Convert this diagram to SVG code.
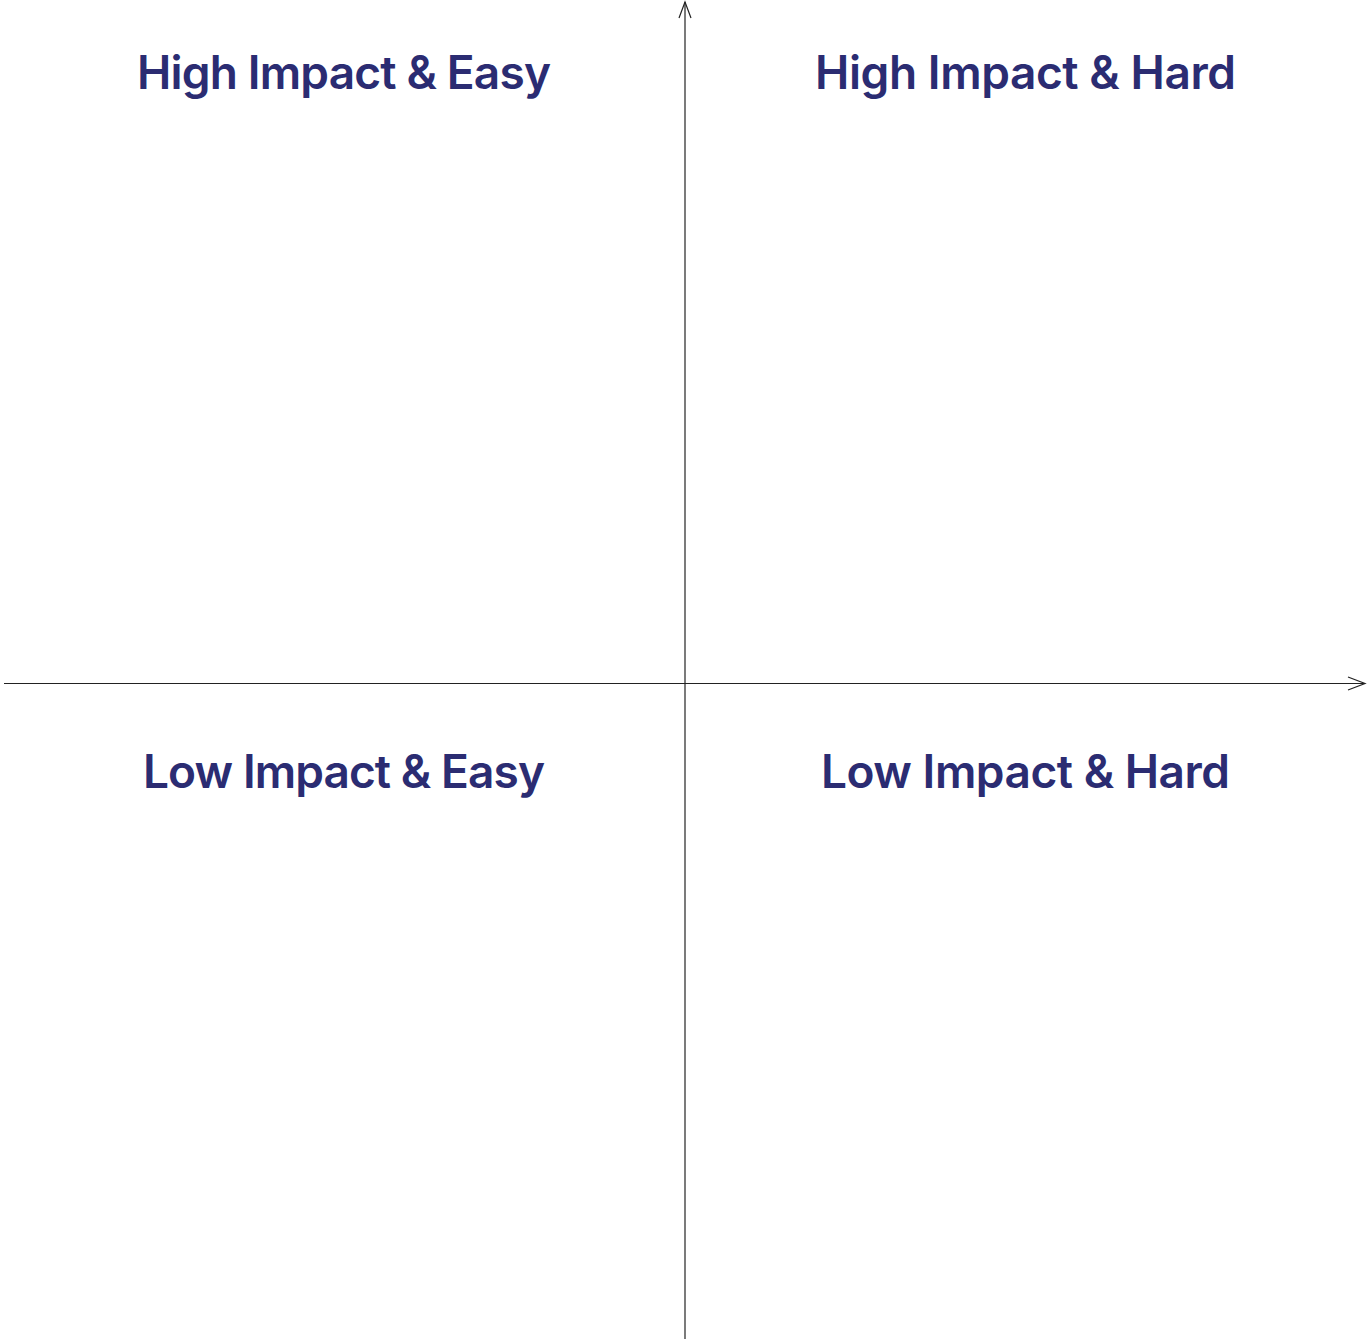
<svg xmlns="http://www.w3.org/2000/svg" width="1367" height="1339" viewBox="0 0 1367 1339">
<style>
.lbl{font-family:Inter,"Noto Sans","Liberation Sans",sans-serif;font-weight:600;font-size:46px;fill:#2b2c72;text-anchor:middle}
.ax{stroke:#222;stroke-width:1.2;fill:none}
</style>
<rect width="1367" height="1339" fill="#fff"/>
<g id="connectors">
<line class="ax" x1="4" y1="683.5" x2="1365" y2="683.5"/>
<polyline class="ax" points="1348,677 1365,683.5 1348,690"/>
<line class="ax" x1="685" y1="1339" x2="685" y2="2"/>
<polyline class="ax" points="679,18 685,2 691,18"/>
</g>
<g id="q-high-easy"><text class="lbl" x="344" y="89" textLength="414">High Impact &amp; Easy</text></g>
<g id="q-high-hard"><text class="lbl" x="1025.5" y="89" textLength="421">High Impact &amp; Hard</text></g>
<g id="q-low-easy"><text class="lbl" x="344" y="788" textLength="402">Low Impact &amp; Easy</text></g>
<g id="q-low-hard"><text class="lbl" x="1025.5" y="788" textLength="409">Low Impact &amp; Hard</text></g>
</svg>
